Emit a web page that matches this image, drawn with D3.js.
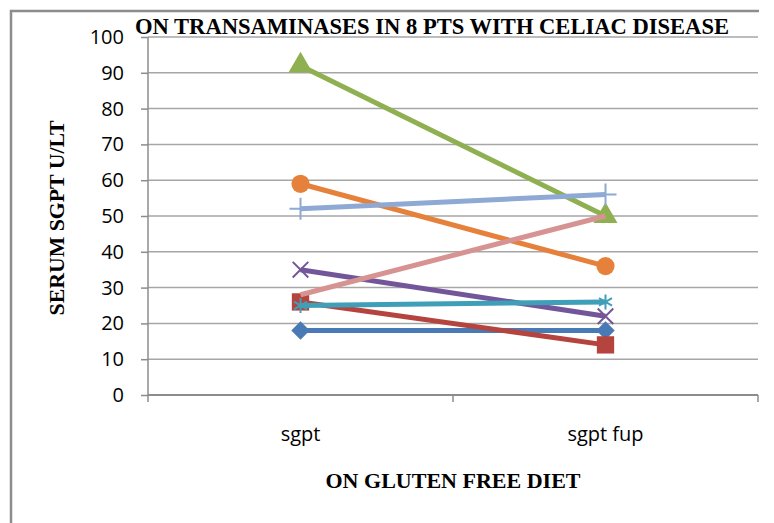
<!DOCTYPE html>
<html>
<head>
<meta charset="utf-8">
<script src="https://cdn.jsdelivr.net/npm/d3@7"></script>
<style>
  body { margin: 0; background: #fff; }
  .tick text { font-family: "Open Sans", "Noto Sans", sans-serif; }
</style>
</head>
<body>
<div id="container"></div>
<script>
// categories on the x axis
var categories = ["sgpt", "sgpt fup"];
// one pair of values per patient
var patientValues = [
  [18, 18],
  [26, 14],
  [92, 50],
  [35, 22],
  [25, 26],
  [59, 36],
  [52, 56],
  [28, 50]
];
var yTicks = [0, 10, 20, 30, 40, 50, 60, 70, 80, 90, 100];

var lineColors = ["#4a7ab5", "#b5443f", "#8fb050", "#73569a", "#3f9fb8", "#e5813a", "#8ea9d4", "#d79391"];
var markerTypes = ["diamond", "square", "triangle", "times", "asterisk", "circle", "plus", "none"];

function markerPath(type) {
  if (type == "diamond") return d3.symbol(d3.symbolSquare, 170)();
  if (type == "square") return d3.symbol(d3.symbolSquare, 300)();
  if (type == "triangle") return d3.symbol(d3.symbolTriangle, 250)();
  if (type == "circle") return d3.symbol(d3.symbolCircle, 260)();
  if (type == "times") return d3.symbol(d3.symbolTimes, 160)();
  if (type == "asterisk") return d3.symbol(d3.symbolAsterisk, 160)();
  if (type == "plus") return d3.symbol(d3.symbolPlus, 160)();
  return null;
}

function createChart() {
  var width = 774, height = 523;
  var svg = d3.select("#container").append("svg")
    .attr("width", width).attr("height", height);

  // outer frame (left and top edges visible)
  svg.append("path")
    .attr("d", "M11,523 L11,11 L759,11")
    .attr("fill", "none").attr("stroke", "#8c8c8c").attr("stroke-width", 2.5);

  var x = d3.scaleBand().domain(categories).range([148, 758]);
  var y = d3.scaleLinear().domain([0, 100]).range([395, 37]);

  // gridlines
  svg.append("g").selectAll("line")
    .data(yTicks.slice(1))
    .enter().append("line")
    .attr("x1", 148).attr("x2", 758)
    .attr("y1", function (d) { return y(d); })
    .attr("y2", function (d) { return y(d); })
    .attr("stroke", "#a6a6a6").attr("stroke-width", 1.5);

  // y axis
  var yAxis = svg.append("g")
    .attr("transform", "translate(148,0)")
    .call(d3.axisLeft(y).tickValues(yTicks).tickSize(7).tickPadding(17));
  yAxis.selectAll("path, line").attr("stroke", "#8c8c8c").attr("stroke-width", 1.5);
  yAxis.select(".domain").attr("d", "M0,395V37");
  yAxis.selectAll("text").attr("font-size", 20).attr("fill", "#000");

  // x axis
  var xAxis = svg.append("g")
    .attr("transform", "translate(0,395)")
    .call(d3.axisBottom(x).tickSize(0).tickPadding(32));
  xAxis.select(".domain").attr("d", "M148,0H758").attr("stroke", "#8c8c8c").attr("stroke-width", 2);
  xAxis.selectAll("text").attr("font-size", 20).attr("fill", "#000");
  xAxis.selectAll(".boundary").data([148, 453, 758]).enter().append("line")
    .attr("x1", function (d) { return d; }).attr("x2", function (d) { return d; })
    .attr("y1", 0).attr("y2", 7)
    .attr("stroke", "#8c8c8c").attr("stroke-width", 1.5);

  var cx = function (i) { return x(categories[i]) + x.bandwidth() / 2; };

  // lines
  var line = d3.line()
    .x(function (d, i) { return cx(i); })
    .y(function (d) { return y(d); });

  var series = svg.append("g").selectAll("g")
    .data(patientValues)
    .enter().append("g");

  series.append("path")
    .attr("d", line)
    .attr("fill", "none")
    .attr("stroke", function (d, i) { return lineColors[i]; })
    .attr("stroke-width", 5);

  // markers
  series.each(function (vals, si) {
    var type = markerTypes[si];
    if (type == "none") return;
    var stroked = (type == "times" || type == "asterisk" || type == "plus");
    d3.select(this).selectAll(".marker")
      .data(vals)
      .enter().append("path")
      .attr("class", "marker")
      .attr("d", markerPath(type))
      .attr("transform", function (d, i) {
        return "translate(" + cx(i) + "," + y(d) + ")" + (type == "diamond" ? " rotate(45)" : "");
      })
      .attr("fill", stroked ? "none" : lineColors[si])
      .attr("stroke", lineColors[si])
      .attr("stroke-width", stroked ? 2 : 0);
  });

  // titles
  svg.append("text")
    .attr("x", 432).attr("y", 34)
    .attr("text-anchor", "middle")
    .attr("font-family", "Liberation Serif, serif")
    .attr("font-weight", "bold").attr("font-size", 22.5)
    .attr("textLength", 594).attr("lengthAdjust", "spacingAndGlyphs")
    .text("ON TRANSAMINASES IN 8 PTS WITH CELIAC DISEASE");

  svg.append("text")
    .attr("transform", "translate(64,218) rotate(-90)")
    .attr("text-anchor", "middle")
    .attr("font-family", "Liberation Serif, serif")
    .attr("font-weight", "bold").attr("font-size", 21.5)
    .attr("textLength", 195).attr("lengthAdjust", "spacingAndGlyphs")
    .text("SERUM SGPT U/LT");

  svg.append("text")
    .attr("x", 453).attr("y", 488)
    .attr("text-anchor", "middle")
    .attr("font-family", "Liberation Serif, serif")
    .attr("font-weight", "bold").attr("font-size", 22)
    .attr("textLength", 255).attr("lengthAdjust", "spacingAndGlyphs")
    .text("ON GLUTEN FREE DIET");
}

createChart();
</script>
</body>
</html>
